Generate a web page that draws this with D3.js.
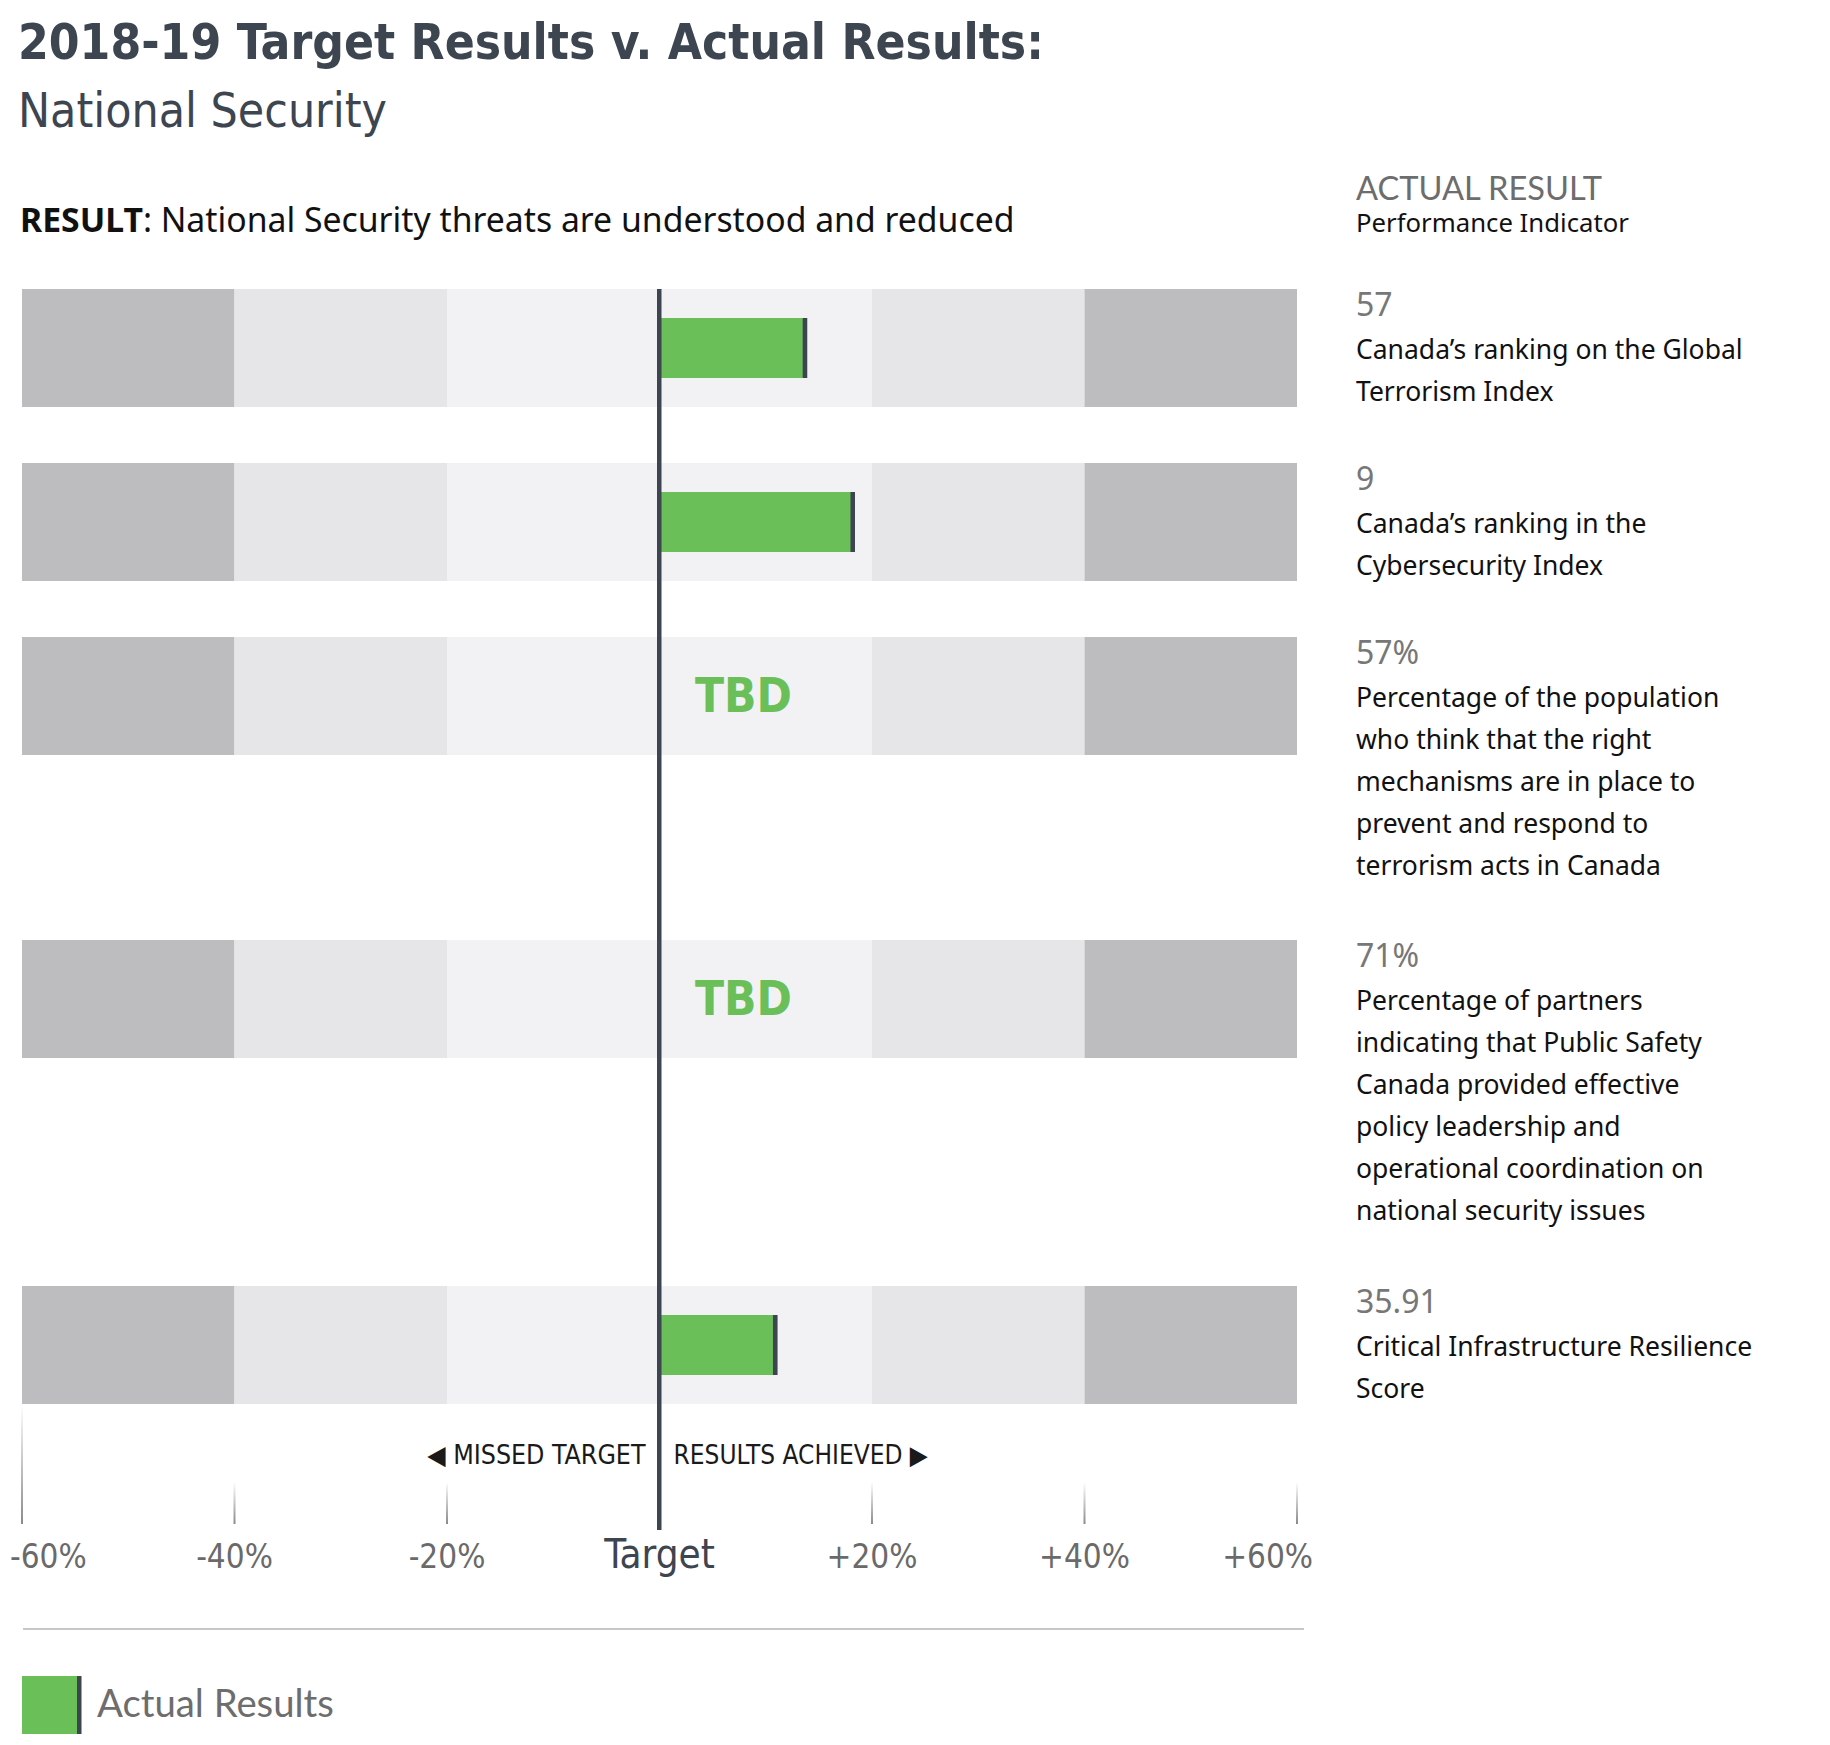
<!DOCTYPE html>
<html>
<head>
<meta charset="utf-8">
<script src="https://cdn.jsdelivr.net/npm/d3@7"></script>
<style>
  body { margin: 0; background: #fff; }
</style>
</head>
<body>
<svg id="chart"></svg>
<script>
// ---- data ----
const actualValues = ["57", "9", "57%", "71%", "35.91"];
// variance from target in percent (null = TBD)
const variance = [13.9, 18.4, null, null, 11.1];
const indicatorLines = [
  ["Canada’s ranking on the Global", "Terrorism Index"],
  ["Canada’s ranking in the", "Cybersecurity Index"],
  ["Percentage of the population", "who think that the right", "mechanisms are in place to", "prevent and respond to", "terrorism acts in Canada"],
  ["Percentage of partners", "indicating that Public Safety", "Canada provided effective", "policy leadership and", "operational coordination on", "national security issues"],
  ["Critical Infrastructure Resilience", "Score"]
];
const tickValues = [-60, -40, -20, 0, 20, 40, 60];
const tickLabels = ["-60%", "-40%", "-20%", "Target", "+20%", "+40%", "+60%"];

const W = 1830, H = 1745;
const condensed = "'Liberation Sans Narrow', 'DejaVu Sans Condensed', sans-serif";
const body = "'Noto Sans', 'Open Sans', sans-serif";
const geo = "Lato, 'Noto Sans', sans-serif";
const dark = "#3d4550";
const green = "#6bbf59";

const svg = d3.select("#chart").attr("width", W).attr("height", H);

// scale text so it spans a given width
function fit(sel, w) {
  const cur = sel.node().getComputedTextLength();
  const fs = parseFloat(sel.attr("font-size"));
  sel.attr("font-size", (fs * w) / cur);
  return sel;
}

// ---- titles ----
fit(svg.append("text").attr("x", 18).attr("y", 59)
  .attr("font-family", condensed).attr("font-weight", "bold").attr("font-size", 57)
  .attr("fill", dark).text("2018-19 Target Results v. Actual Results:"), 1026);

fit(svg.append("text").attr("x", 18).attr("y", 127)
  .attr("font-family", condensed).attr("font-size", 56)
  .attr("fill", dark).text("National Security"), 369);

const res = svg.append("text").attr("x", 20).attr("y", 232)
  .attr("font-family", body).attr("font-size", 32).attr("fill", "#111");
res.append("tspan").attr("font-weight", "bold").text("RESULT");
res.append("tspan").text(": National Security threats are understood and reduced");
fit(res, 995);

fit(svg.append("text").attr("x", 1356).attr("y", 200)
  .attr("font-family", geo).attr("font-size", 32).attr("fill", "#6d6d6d")
  .text("ACTUAL RESULT"), 246);
fit(svg.append("text").attr("x", 1356).attr("y", 232)
  .attr("font-family", body).attr("font-size", 26).attr("fill", "#111")
  .text("Performance Indicator"), 273);

// ---- layout of rows ----
// each row is as tall as its indicator text needs
const x = d3.scaleLinear().domain([-60, 60]).range([22, 1297]);
const bandH = 118, lineH = 42;
const rows = [];
let rowTop = 289;
actualValues.forEach((v, i) => {
  rows.push({ i, value: v, variance: variance[i], lines: indicatorLines[i], top: rowTop, valueY: rowTop + 27 });
  rowTop += 88 + 43 * indicatorLines[i].length;
});

const zoneColor = (a, b) => {
  const m = Math.max(Math.abs(a), Math.abs(b));
  return m > 40 ? "#bdbdbf" : m > 20 ? "#e6e6e8" : "#f2f2f4";
};
const zones = d3.pairs(tickValues);

const rowG = svg.selectAll("g.row").data(rows).join("g").attr("class", "row")
  .attr("transform", d => `translate(0,${d.top})`);

rowG.selectAll("rect.zone").data(zones).join("rect").attr("class", "zone")
  .attr("x", d => x(d[0])).attr("width", d => x(d[1]) - x(d[0]))
  .attr("y", 0).attr("height", bandH)
  .attr("fill", d => zoneColor(d[0], d[1]));

const withBar = rowG.filter(d => d.variance !== null);
withBar.append("rect")
  .attr("x", x(0)).attr("width", d => x(d.variance) - x(0))
  .attr("y", 29).attr("height", 60).attr("fill", green);
withBar.append("rect")
  .attr("x", d => x(d.variance) - 4.5).attr("width", 4.5)
  .attr("y", 29).attr("height", 60).attr("fill", dark);

rowG.filter(d => d.variance === null).append("text")
  .attr("x", x(0) + 84).attr("y", 75)
  .attr("text-anchor", "middle")
  .attr("font-family", condensed).attr("font-weight", "bold").attr("font-size", 58)
  .attr("fill", green).text("TBD")
  .each(function () { fit(d3.select(this), 97); });

// right column: value + indicator
rowG.append("text").attr("x", 1356).attr("y", d => d.valueY - d.top)
  .attr("font-family", body).attr("font-size", 32).attr("fill", "#777")
  .text(d => d.value);
rowG.each(function (d) {
  const t = d3.select(this).append("text")
    .attr("font-family", body).attr("font-size", 26.5).attr("fill", "#111");
  t.selectAll("tspan").data(d.lines).join("tspan")
    .attr("x", 1356)
    .attr("y", (l, k) => d.valueY - d.top + 43 + k * lineH)
    .text(l => l);
});

// ---- axis ----
const firstTop = rows[0].top;
const lastBottom = rows[rows.length - 1].top + bandH;
const axisY = 1530;

const grad = svg.append("defs").append("linearGradient").attr("id", "tickFade")
  .attr("x1", 0).attr("y1", 0).attr("x2", 0).attr("y2", 1);
grad.append("stop").attr("offset", "0%").attr("stop-color", "#fff");
grad.append("stop").attr("offset", "100%").attr("stop-color", "#8a8a8a");

svg.append("g").selectAll("rect").data(tickValues.filter(v => v !== 0)).join("rect")
  .attr("x", d => x(d) - 1).attr("width", 2)
  .attr("y", d => d === -60 ? lastBottom : axisY - 48)
  .attr("height", d => d === -60 ? axisY - 6 - lastBottom : 42)
  .attr("fill", "url(#tickFade)");

// end labels are pulled inward so they stay inside the chart
svg.append("g").selectAll("text").data(tickValues).join("text")
  .attr("x", d => d === -60 ? x(d) - 12 : d === 60 ? x(d) + 16 : x(d))
  .attr("y", 1568)
  .attr("text-anchor", d => d === -60 ? "start" : d === 60 ? "end" : "middle")
  .attr("font-family", condensed)
  .attr("font-size", d => d === 0 ? 40 : 33)
  .attr("fill", d => d === 0 ? dark : "#6a6a6a")
  .text((d, i) => tickLabels[i]);

svg.append("text").attr("x", x(0) - 14).attr("y", 1464).attr("text-anchor", "end")
  .attr("font-family", condensed).attr("font-size", 26.5).attr("fill", "#1a1a1a")
  .text("◀ MISSED TARGET");
svg.append("text").attr("x", x(0) + 14).attr("y", 1464)
  .attr("font-family", condensed).attr("font-size", 26).attr("fill", "#1a1a1a")
  .text("RESULTS ACHIEVED ▶");

// target line
svg.append("rect").attr("x", x(0) - 2.5).attr("width", 4.5)
  .attr("y", firstTop).attr("height", axisY - firstTop).attr("fill", dark);

// ---- separator + legend ----
svg.append("line").attr("x1", 23).attr("x2", 1304).attr("y1", 1629).attr("y2", 1629)
  .attr("stroke", "#b5b5b5").attr("stroke-width", 1.5);

svg.append("rect").attr("x", 22).attr("y", 1676).attr("width", 56).attr("height", 58).attr("fill", green);
svg.append("rect").attr("x", 77).attr("y", 1676).attr("width", 4.5).attr("height", 58).attr("fill", dark);
fit(svg.append("text").attr("x", 97).attr("y", 1717)
  .attr("font-family", geo).attr("font-size", 35).attr("fill", "#6d6d6d")
  .text("Actual Results"), 237);
</script>
</body>
</html>
